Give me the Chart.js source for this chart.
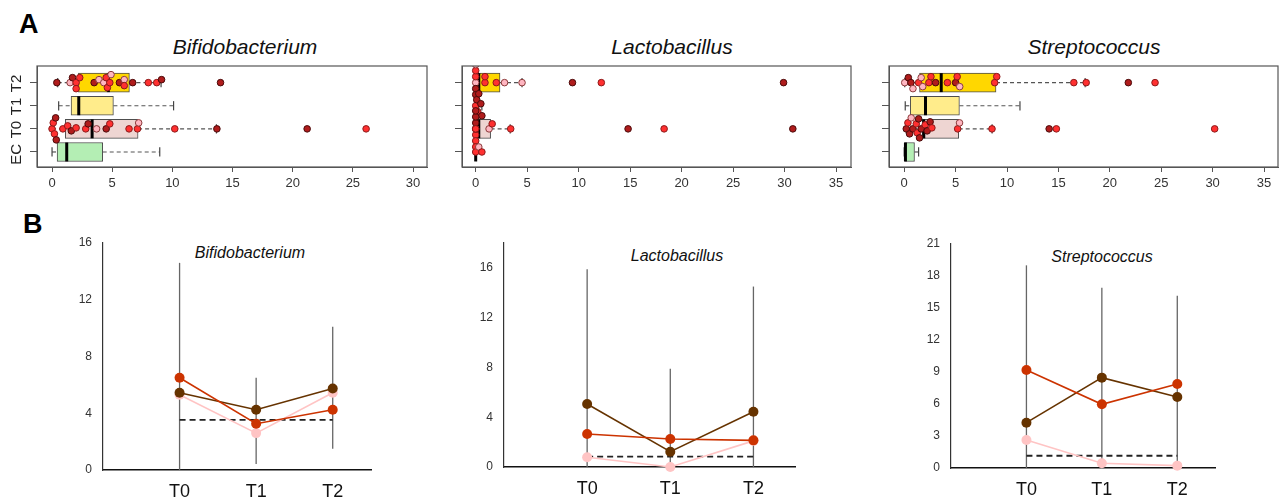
<!DOCTYPE html>
<html>
<head>
<meta charset="utf-8">
<script src="https://cdn.jsdelivr.net/npm/chart.js@4.4.1/dist/chart.umd.min.js"></script>
<style>
body{margin:0;background:#fff;font-family:"Liberation Sans",Arial,sans-serif}
#fig{position:relative;width:1283px;height:501px;overflow:hidden}
canvas{position:absolute}
.lab{position:absolute;font-weight:bold;font-size:27px;color:#000;line-height:1}
.ttl{position:absolute;font-style:italic;color:#111;white-space:nowrap;transform:translate(-50%,-50%);line-height:1}
</style>
</head>
<body>
<div id="fig">
  <div class="lab" style="left:19px;top:11px">A</div>
  <div class="lab" style="left:23px;top:211px">B</div>
  <div class="ttl" style="left:245px;top:46px;font-size:21px">Bifidobacterium</div>
  <div class="ttl" style="left:672px;top:46px;font-size:21px">Lactobacillus</div>
  <div class="ttl" style="left:1094px;top:46px;font-size:21px">Streptococcus</div>
  <div class="ttl" style="left:250px;top:253px;font-size:16px">Bifidobacterium</div>
  <div class="ttl" style="left:677px;top:256px;font-size:16px">Lactobacillus</div>
  <div class="ttl" style="left:1102px;top:257px;font-size:16px">Streptococcus</div>
  <canvas id="a1" width="440" height="200" style="left:0;top:0"></canvas>
  <canvas id="a2" width="430" height="200" style="left:430px;top:0"></canvas>
  <canvas id="a3" width="423" height="200" style="left:860px;top:0"></canvas>
  <canvas id="b1" width="430" height="301" style="left:0;top:200px"></canvas>
  <canvas id="b2" width="430" height="301" style="left:430px;top:200px"></canvas>
  <canvas id="b3" width="423" height="301" style="left:860px;top:200px"></canvas>
</div>
<script>
// ---- Panel A data (rows bottom to top) ----
const rowLabels=['EC','T0','T1','T2'];
const ticks30=[0,5,10,15,20,25,30];
const ticks35=[0,5,10,15,20,25,30,35];
// box stats per row: [low whisker, q1, median, q3, high whisker]
const bifBox=[[0,0.42,1.22,4.21,8.95],[0,1.1,3.33,7.15,13.66],[0.55,1.58,2.22,5.1,10.1],[0.47,2.19,4.68,6.43,9.06]];
const lacBox=[[0,0,0,0.03,0.05],[0,0.25,0.3,1.45,3.35],[0,0,0.15,0.35,0.6],[0,0.25,0.3,2.36,4.5]];
const strBox=[[0,0.04,0.12,1.0,1.4],[0.2,1.75,1.9,5.3,8.55],[0.1,0.59,2.07,5.37,11.26],[0.05,1.49,3.6,8.93,17.6]];
// individual samples; group code r = red, d = dark red, p = pink
const bifPts=[[],
  [0,0.1,0.2,0.3,0.35,0.9,1.3,1.6,2.0,2.8,3.0,3.7,4.5,4.8,6.4,7.1,7.2,10.2,13.7,21.2,26.1],
  [],
  [0.4,1.5,1.7,2.0,2.0,2.3,3.5,3.9,4.3,4.5,4.6,4.8,4.9,5.6,6.0,6.0,6.7,8.0,8.7,9.1,14.0]];
const bifGrp=['','rrrddrrdrrdpdrrrprddr','','dpdrrrdpprrrpdprdrrdd'];
const lacPts=[[0,0.3,0.6],
  [0,0,0,0,0,0,0,0,0,1.3,1.6,3.4,14.8,18.3,30.8],
  [0,0.1,0.2,0.3,0.5,0.6],
  [0,0,0,0,0,0,0.9,0.9,2.0,2.8,4.5,9.4,12.2,29.9]];
const lacGrp=['rpr','rdrdrdrdrprrdrd','rdrddd','prdrdprrrppdrd'];
const strPts=[[],
  [0.2,0.36,0.52,0.68,0.84,1.17,1.26,1.4,1.49,1.65,2.04,2.23,2.52,2.69,5.2,5.38,8.54,14.1,14.8,30.2],
  [],
  [0.05,0.4,0.65,0.85,1.4,1.65,1.8,2.4,2.6,3.05,4.2,5.0,5.15,5.4,8.8,9.0,16.5,17.7,21.8,24.4]];
const strGrp=['','drdpdrrdddrddrrprdrr','','pddprpprrdrdrprrrrdr'];

// ---- Panel B data ----
const timeLabels=['T0','T1','T2'];
const bifBrown=[5.45,4.25,5.75], bifRed=[6.5,3.26,4.25], bifPink=[5.3,2.6,5.45], bifRef=3.53;
const bifErrLo=[0,0.43,1.5], bifErrHi=[14.6,6.5,10.1];
const lacBrown=[5.06,1.23,4.44], lacRed=[2.65,2.25,2.14], lacPink=[0.78,0,2.1], lacRef=0.83;
const lacErrLo=[0,0,0], lacErrHi=[15.9,7.9,14.5];
const strBrown=[4.25,8.47,6.66], strRed=[9.19,5.97,7.87], strPink=[2.62,0.44,0.22], strRef=1.15;
const strErrLo=[0,0,0], strErrHi=[19.0,16.9,16.15];
const ticksB1=[0,4,8,12,16], ticksB3=[0,3,6,9,12,15,18,21];

const boxColors=['#b4eeb4','#eed5d2','#ffec8b','#ffd700'];
const ptFill={r:'#ff3030',d:'#b01c1c',p:'#ffb6c1'};
const ptLine={r:'#8b1a1a',d:'#4a0a0a',p:'#8b3a3a'};
const ROW_PX=23.1;

const frame={id:'frame',afterDraw(c){const a=c.chartArea,x=c.ctx;x.save();x.strokeStyle='#555';x.lineWidth=1.2;x.strokeRect(a.left,a.top,a.right-a.left,a.bottom-a.top);x.restore();}};

// simple beeswarm: shift a point up/down only when it would overlap one already placed
function swarm(vals,pxPerUnit){
  const placed=[];
  return vals.map(v=>{
    const px=v*pxPerUnit;
    let off=0;
    for(let k=0;k<=36;k++){
      const cand=(k%2?1:-1)*Math.ceil(k/2);
      if(placed.every(p=>(p[0]-px)**2+(p[1]-cand)**2>=30)){off=cand;break;}
    }
    placed.push([px,off]);
    return off/ROW_PX;
  });
}

function seg(pts,color,w,dash,order){
  return {type:'line',data:pts,borderColor:color,borderWidth:w,borderDash:dash,pointRadius:0,fill:false,order:order};
}

function topChart(id,box,pts,grp,xmin,xmax,xticks,yw,padR,showY){
  const pxPerUnit=390/(xmax-xmin);
  const ds=[{type:'bar',indexAxis:'y',data:box.map((b,i)=>({x:[b[1],b[3]],y:i+1})),
    backgroundColor:boxColors,borderColor:'#4d4d4d',borderWidth:1,borderSkipped:false,barThickness:19,order:3}];
  box.forEach((b,i)=>{
    const r=i+1;
    ds.push(seg([{x:b[0],y:r},{x:b[1],y:r}],'#555',1.2,[4,3],4));
    ds.push(seg([{x:b[3],y:r},{x:b[4],y:r}],'#555',1.2,[4,3],4));
    ds.push(seg([{x:b[0],y:r-0.2},{x:b[0],y:r+0.2}],'#444',1.2,[],2));
    ds.push(seg([{x:b[4],y:r-0.2},{x:b[4],y:r+0.2}],'#444',1.2,[],2));
    ds.push(seg([{x:b[2],y:r-0.41},{x:b[2],y:r+0.41}],'#000',3,[],1));
  });
  pts.forEach((vals,i)=>{
    if(!vals.length) return;
    const g=grp[i].split('');
    const offs=swarm(vals,pxPerUnit);
    ds.push({type:'scatter',data:vals.map((v,j)=>({x:v,y:i+1+offs[j]})),
      pointRadius:3.3,pointBorderWidth:1,pointBackgroundColor:g.map(c=>ptFill[c]),pointBorderColor:g.map(c=>ptLine[c]),order:0});
  });
  new Chart(document.getElementById(id),{
    type:'bar',data:{datasets:ds},plugins:[frame],
    options:{responsive:false,animation:false,
      layout:{padding:{left:0,top:66,right:padR,bottom:0}},
      plugins:{legend:{display:false},tooltip:{enabled:false}},
      scales:{
        x:{type:'linear',min:xmin,max:xmax,offset:false,
          afterBuildTicks:s=>{s.ticks=xticks.map(v=>({value:v}));},
          afterFit:s=>{s.height=33;},
          grid:{drawOnChartArea:false,offset:false,tickLength:5,color:'#555'},border:{color:'#555'},
          ticks:{padding:4,color:'#333',font:{family:'Liberation Sans',size:13}}},
        y:{type:'linear',min:0.35,max:4.72,offset:false,
          afterBuildTicks:s=>{s.ticks=rowLabels.map((l,i)=>({value:i+1}));},
          afterFit:s=>{s.width=yw;},
          grid:{drawOnChartArea:false,offset:false,tickLength:7,color:'#555'},border:{color:'#555'},
          ticks:{display:showY,minRotation:90,maxRotation:90,labelOffset:-8,padding:13,color:'#222',
            font:{family:'Liberation Sans',size:15},callback:v=>rowLabels[v-1]}}
      }}
  });
}

function lineChart(id,brown,red,pink,ref,lo,hi,ymax,yticks,yw,padR,padT,xh){
  const ds=[];
  lo.forEach((v,i)=>ds.push(seg([{x:i,y:v},{x:i,y:hi[i]}],'#666',1.3,[],6)));
  ds.push(seg([{x:0,y:ref},{x:2,y:ref}],'#222',1.8,[6,4],4));
  const series=[[pink,'#ffc4c4',3],[brown,'#663300',2],[red,'#cc3300',1]];
  series.forEach(([vals,c,o])=>ds.push({type:'line',data:vals.map((v,i)=>({x:i,y:v})),borderColor:c,backgroundColor:c,
    borderWidth:1.6,pointRadius:5,pointBorderWidth:0,pointBackgroundColor:c,fill:false,clip:false,order:o}));
  new Chart(document.getElementById(id),{
    type:'line',data:{datasets:ds},
    options:{responsive:false,animation:false,
      layout:{padding:{left:0,top:padT,right:padR,bottom:0}},
      plugins:{legend:{display:false},tooltip:{enabled:false}},
      scales:{
        x:{type:'linear',min:-1,max:2.5,
          afterBuildTicks:s=>{s.ticks=timeLabels.map((l,i)=>({value:i}));},
          afterFit:s=>{s.height=xh;},
          grid:{display:false,drawTicks:false},border:{color:'#111',width:1.5},
          ticks:{padding:11,color:'#111',font:{family:'Liberation Sans',size:18},callback:v=>timeLabels[v]}},
        y:{type:'linear',min:0,max:ymax,
          afterBuildTicks:s=>{s.ticks=yticks.map(v=>({value:v}));},
          afterFit:s=>{s.width=yw;},
          grid:{display:false,drawTicks:false},border:{color:'#333',width:1.2},
          ticks:{padding:11,color:'#333',font:{family:'Liberation Sans',size:12}}}
      }}
  });
}

topChart('a1',bifBox,bifPts,bifGrp,-1.25,31.16,ticks30,37,13,true);
topChart('a2',lacBox,lacPts,lacGrp,-1.33,36.45,ticks35,32,9,false);
topChart('a3',strBox,strPts,strGrp,-1.48,36.36,ticks35,29,4,false);
lineChart('b1',bifBrown,bifRed,bifPink,bifRef,bifErrLo,bifErrHi,16,ticksB1,103,59,43,31);
lineChart('b2',lacBrown,lacRed,lacPink,lacRef,lacErrLo,lacErrHi,18,ticksB1,74,65,43,34);
lineChart('b3',strBrown,strRed,strPink,strRef,strErrLo,strErrHi,21,ticksB3,91,68,44,33);
</script>
</body>
</html>
